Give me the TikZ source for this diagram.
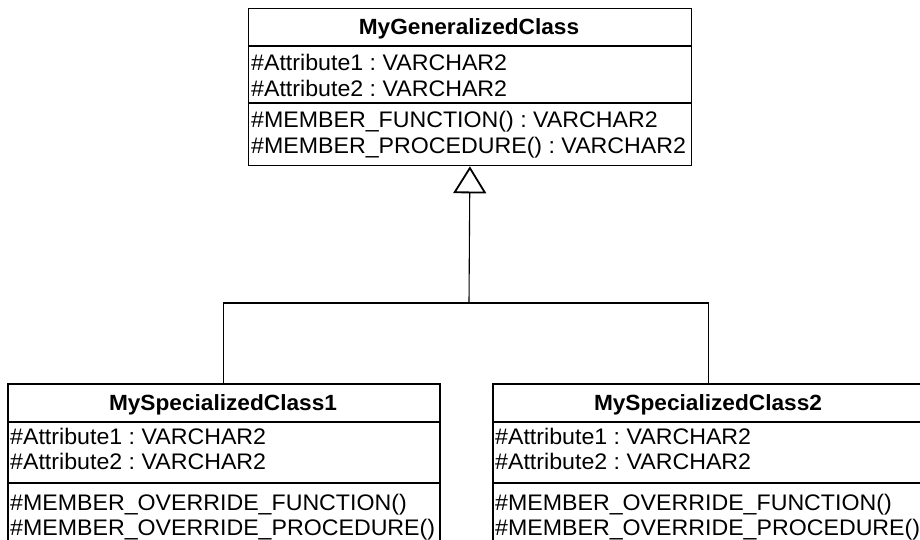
\documentclass[tikz,border=0pt]{standalone}
\usepackage{fontspec}
\setmainfont{Liberation Sans}[FakeStretch=1.03]
\frenchspacing
\usetikzlibrary{arrows.meta}
\begin{document}
\begin{tikzpicture}[x=1pt,y=-1pt,
  classbox/.style={draw, line width=1.8pt, anchor=north west, inner sep=0pt},
  sepline/.style={line width=1.8pt},
  conn/.style={line width=1.1pt},
  ctitle/.style={anchor=base, inner sep=0pt, font=\fontsize{22}{26}\selectfont\bfseries\frenchspacing},
  member/.style={anchor=base west, inner sep=0pt, font=\fontsize{22.5}{26}\selectfont\frenchspacing}]
\useasboundingbox (0,0) rectangle (920,539);
\clip (0,0) rectangle (920,539);
% generalized class
\node[classbox, minimum width=443pt, minimum height=157pt] (gen) at (247.5,7.5) {};
\coordinate (g1) at (0,46);
\coordinate (g2) at (0,103);
\draw[sepline] (gen.west |- g1) -- (gen.east |- g1);
\draw[sepline] (gen.west |- g2) -- (gen.east |- g2);
\node[ctitle] (gent) at (469,34.5) {MyGeneralizedClass};
\node[member] (ga1) at (251,70) {\#Attribute1 : VARCHAR2};
\node[member] (ga2) at (251,96) {\#Attribute2 : VARCHAR2};
\node[member] (gm1) at (251,127.5) {\#MEMBER\_FUNCTION() : VARCHAR2};
\node[member] (gm2) at (251,153) {\#MEMBER\_PROCEDURE() : VARCHAR2};
% specialized class 1
\node[classbox, minimum width=432pt, minimum height=200pt] (s1) at (7,383) {};
\coordinate (h1) at (0,422);
\coordinate (h2) at (0,483);
\draw[sepline] (s1.west |- h1) -- (s1.east |- h1);
\draw[sepline] (s1.west |- h2) -- (s1.east |- h2);
\node[ctitle] (s1t) at (223,410.5) {MySpecializedClass1};
\node[member] (s1a1) at (10,444.5) {\#Attribute1 : VARCHAR2};
\node[member] (s1a2) at (10,469.5) {\#Attribute2 : VARCHAR2};
\node[member] (s1m1) at (10,510.5) {\#MEMBER\_OVERRIDE\_FUNCTION()};
\node[member] (s1m2) at (10,535.5) {\#MEMBER\_OVERRIDE\_PROCEDURE()};
% specialized class 2
\node[classbox, minimum width=432pt, minimum height=200pt] (s2) at (492,383) {};
\draw[sepline] (s2.west |- h1) -- (s2.east |- h1);
\draw[sepline] (s2.west |- h2) -- (s2.east |- h2);
\node[ctitle] (s2t) at (708,410.5) {MySpecializedClass2};
\node[member] (s2a1) at (495,444.5) {\#Attribute1 : VARCHAR2};
\node[member] (s2a2) at (495,469.5) {\#Attribute2 : VARCHAR2};
\node[member] (s2m1) at (495,510.5) {\#MEMBER\_OVERRIDE\_FUNCTION()};
\node[member] (s2m2) at (495,535.5) {\#MEMBER\_OVERRIDE\_PROCEDURE()};
% generalization
\coordinate (j) at (469,303);
\draw[conn] (s1.north) |- (j) -| (s2.north);
\draw[conn, -{Triangle[open, width=33pt, length=27pt, line width=1.8pt]}] (j) -- (gen.south);
\end{tikzpicture}
\end{document}
